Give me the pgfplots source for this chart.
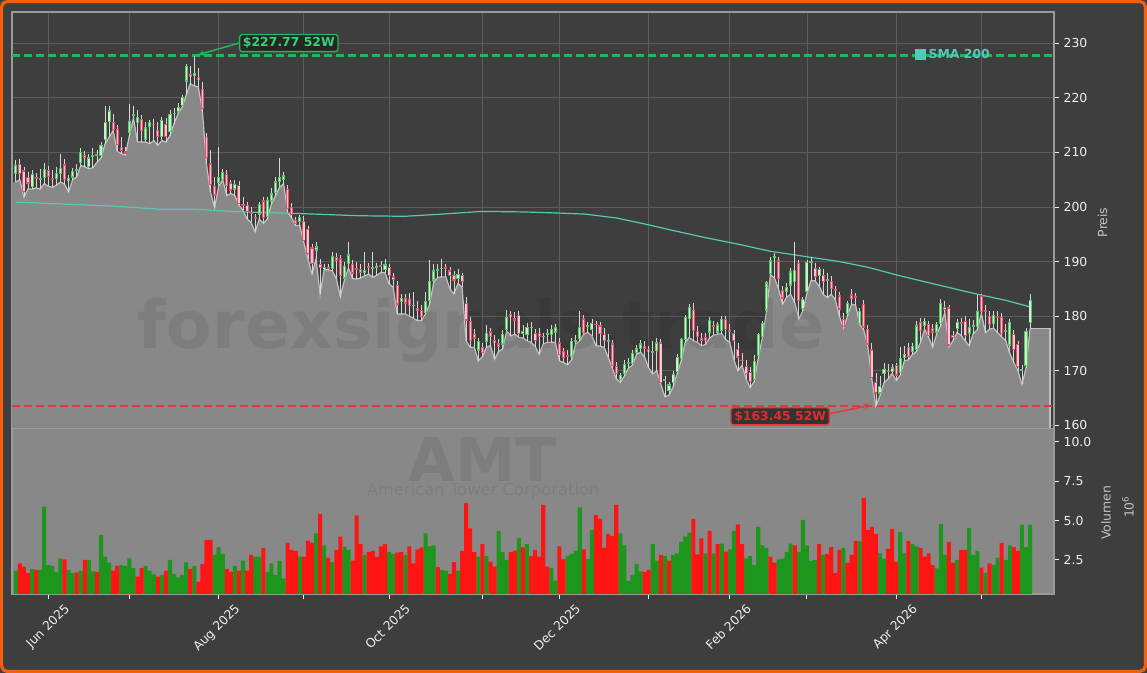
\documentclass[border=0pt]{standalone}
\usepackage{pgfplots}
\pgfplotsset{compat=1.18}
\usepackage{pgfplotstable}
\usepackage{fontspec}
\setmainfont{DejaVu Sans}
\usetikzlibrary{arrows.meta}

\definecolor{figbg}{HTML}{3E3E3E}
\definecolor{frameor}{HTML}{F0600F}
\definecolor{gridc}{HTML}{5C5C5C}
\definecolor{spinec}{HTML}{9A9A9A}
\definecolor{tickc}{HTML}{EEEEEE}
\definecolor{labc}{HTML}{C4C4C4}
\definecolor{areac}{HTML}{888888}
\definecolor{arealn}{HTML}{C2C2C2}
\definecolor{wickc}{HTML}{D6D6D6}
\definecolor{upedge}{HTML}{58C868}
\definecolor{upfill}{HTML}{CDEFCD}
\definecolor{dnedge}{HTML}{EE4E6C}
\definecolor{dnfill}{HTML}{F8C8D2}
\definecolor{volg}{HTML}{1C961C}
\definecolor{volr}{HTML}{FF1414}
\definecolor{smac}{HTML}{56C8B8}
\definecolor{hiline}{HTML}{20B858}
\definecolor{hitext}{HTML}{38D27A}
\definecolor{loline}{HTML}{E03A3A}
\definecolor{lotext}{HTML}{E42A2A}

\newcommand\tfont{\fontsize{9.3pt}{11pt}\selectfont}

% daily candles: index, open, high, low, close, volume (mio), volume colour (1 = green)
\pgfplotstableread{
i o h l c v g
0 206.0 208.6 204.6 207.7 1.83 1
1 207.9 208.8 205.0 206.1 2.29 0
2 206.7 207.3 201.8 202.7 2.08 0
3 205.5 206.4 203.3 204.3 1.66 0
4 203.6 206.8 203.3 206.1 1.92 1
5 205.5 206.2 203.5 205.1 1.87 0
6 205.0 207.0 203.3 205.2 1.87 1
7 205.3 208.0 204.3 207.0 5.88 1
8 206.8 207.5 203.8 205.5 2.18 1
9 205.4 206.8 203.6 205.0 2.12 1
10 205.1 207.3 204.0 206.2 1.71 1
11 206.0 209.8 204.6 207.2 2.60 1
12 207.8 208.8 204.2 205.0 2.54 0
13 204.7 205.8 202.8 205.3 1.87 1
14 205.4 207.2 205.0 206.6 1.66 1
15 206.6 207.8 205.5 206.9 1.71 0
16 208.1 210.8 207.6 210.1 1.83 1
17 209.6 210.2 207.4 209.0 2.50 0
18 207.3 209.7 207.0 209.1 2.50 1
19 209.2 210.8 207.2 209.6 1.77 1
20 209.4 210.4 208.2 209.7 1.75 0
21 209.4 212.0 209.0 211.4 4.08 1
22 212.3 218.6 211.6 215.6 2.71 1
23 215.6 218.5 212.8 217.7 2.33 1
24 215.6 217.0 214.0 214.1 1.83 0
25 214.3 215.0 210.2 211.3 2.12 0
26 211.0 212.8 209.8 210.3 2.18 1
27 210.2 211.0 209.5 209.8 2.12 1
28 213.5 218.8 213.1 215.8 2.60 1
29 216.8 218.6 216.3 217.0 1.99 1
30 215.4 217.8 211.9 216.5 1.45 0
31 216.2 216.8 211.9 213.9 1.99 0
32 212.3 215.5 211.9 214.6 2.12 1
33 214.6 216.0 211.6 215.6 1.83 1
34 215.3 216.2 212.2 215.0 1.58 1
35 214.2 215.5 211.3 212.8 1.45 0
36 212.8 216.5 212.2 215.9 1.56 1
37 215.3 216.3 211.9 212.8 1.83 0
38 213.8 217.7 213.1 217.1 2.50 1
39 217.0 218.2 215.3 217.3 1.62 1
40 217.3 219.0 217.1 218.3 1.39 1
41 218.5 220.6 218.3 220.2 1.56 1
42 223.0 226.2 220.5 225.9 2.35 1
43 224.4 225.8 222.6 223.8 1.94 0
44 224.0 227.77 222.2 224.6 2.12 1
45 223.8 225.4 222.0 223.2 1.13 0
46 221.7 223.0 217.5 218.0 2.25 0
47 212.8 213.5 207.8 208.9 3.77 0
48 208.0 210.5 202.7 204.0 3.77 0
49 203.8 205.5 199.9 202.1 2.82 1
50 204.4 211.0 203.8 205.5 3.32 1
51 205.0 207.0 205.0 206.4 2.88 1
52 206.0 206.8 202.1 203.9 1.92 0
53 204.5 205.0 202.5 203.0 1.75 0
54 203.2 205.0 202.1 204.3 2.12 1
55 204.1 204.8 200.3 200.6 1.83 0
56 200.6 201.8 199.4 200.3 2.46 1
57 200.4 201.0 197.8 199.1 1.83 0
58 199.0 200.0 197.2 198.7 2.82 0
59 198.2 198.8 195.4 197.8 2.71 1
60 198.6 201.0 197.8 200.6 2.71 1
61 201.2 201.8 197.0 197.9 3.26 0
62 198.2 201.8 197.8 201.3 1.75 1
63 201.0 203.5 200.5 202.5 2.29 1
64 202.5 205.5 202.1 204.7 1.56 1
65 204.6 208.9 203.6 205.5 2.44 1
66 205.0 206.5 204.3 205.8 1.33 1
67 203.3 204.0 199.0 199.6 3.60 0
68 200.0 200.8 198.0 198.5 3.14 0
69 197.6 198.2 196.6 196.9 3.08 0
70 197.2 198.6 196.6 198.2 2.71 1
71 197.4 198.3 193.5 193.7 2.71 0
72 196.0 196.5 190.5 191.3 3.73 0
73 192.6 193.2 187.7 189.6 3.60 0
74 192.0 193.5 190.5 192.8 4.19 1
75 189.6 190.4 184.0 188.8 5.41 0
76 188.6 189.5 188.5 189.1 3.43 1
77 189.0 189.6 188.5 188.6 2.65 0
78 188.6 191.8 188.3 191.1 2.37 1
79 190.8 191.5 186.9 190.1 3.14 0
80 190.6 191.2 183.6 187.3 3.98 0
81 186.9 189.9 186.6 189.2 3.35 1
82 189.6 193.5 188.8 191.3 3.14 1
83 189.6 190.2 186.9 187.8 2.46 0
84 188.8 190.0 186.8 188.6 5.33 0
85 188.6 189.5 187.0 188.0 3.50 0
86 188.0 191.8 187.4 188.5 2.82 1
87 189.2 189.8 187.7 188.8 3.01 0
88 188.8 191.8 187.1 189.0 3.08 0
89 189.0 189.8 187.5 189.1 2.71 0
90 189.4 190.2 188.0 189.0 3.37 0
91 188.5 190.5 188.0 189.5 3.50 0
92 189.0 189.6 185.9 187.4 3.01 1
93 187.3 188.0 185.3 186.7 2.88 1
94 185.8 186.5 180.4 182.1 2.96 0
95 182.6 184.0 180.4 183.3 3.00 0
96 183.3 184.0 180.4 182.3 2.82 1
97 183.1 184.2 180.0 181.9 3.37 0
98 182.0 184.4 179.6 182.0 2.29 0
99 181.5 182.8 179.2 181.0 3.18 0
100 181.2 182.0 179.2 179.8 3.30 0
101 180.5 184.5 180.4 182.8 4.19 1
102 182.8 190.2 182.2 186.5 3.37 1
103 186.5 189.5 186.2 188.4 3.43 1
104 188.4 189.5 187.1 188.6 2.04 0
105 188.6 190.5 187.2 188.9 1.87 1
106 188.9 189.6 187.2 188.7 1.83 1
107 188.4 189.0 185.0 187.4 1.62 0
108 187.6 188.2 184.1 186.5 2.37 0
109 186.8 188.6 186.0 187.7 1.83 1
110 187.5 188.0 185.3 186.2 3.08 0
111 182.5 183.5 175.5 179.2 6.10 0
112 179.2 179.8 174.3 175.5 4.51 0
113 176.8 177.6 174.3 175.9 3.00 0
114 173.7 176.0 171.8 175.5 2.71 1
115 174.4 175.0 172.6 173.2 3.50 0
116 175.2 178.3 174.3 177.0 2.75 1
117 177.2 177.8 174.6 176.1 2.39 0
118 175.6 176.6 172.1 175.0 2.08 0
119 175.0 175.8 173.5 174.3 4.34 1
120 174.8 177.5 174.0 176.7 3.00 1
121 177.5 181.2 177.3 179.8 2.50 1
122 180.4 181.0 176.4 179.8 3.00 0
123 179.6 180.8 176.7 179.2 3.10 0
124 180.3 181.0 176.1 176.7 3.90 1
125 176.8 178.4 176.0 177.3 3.30 0
126 176.6 178.8 175.5 178.0 3.50 1
127 177.8 179.0 175.2 178.1 2.75 0
128 177.0 177.6 174.5 175.5 3.14 0
129 177.0 177.8 173.0 176.1 2.71 0
130 176.2 177.0 174.9 176.4 6.00 0
131 176.6 177.6 175.2 176.8 2.08 0
132 176.6 178.4 175.2 177.6 1.99 1
133 177.0 178.5 175.2 178.0 1.19 1
134 175.2 176.0 171.8 172.9 3.37 0
135 173.6 174.2 171.5 172.3 2.56 0
136 172.8 173.8 171.1 172.5 2.75 1
137 172.5 176.0 172.0 175.5 2.88 1
138 175.3 176.5 174.9 175.6 3.10 1
139 175.8 181.0 175.5 178.0 5.84 1
140 179.6 180.2 176.7 176.9 3.18 0
141 178.0 179.0 177.0 178.3 2.56 1
142 177.5 179.5 176.4 178.8 4.40 1
143 178.6 179.2 174.6 178.4 5.35 0
144 178.3 179.0 174.5 176.7 5.10 0
145 176.8 177.8 174.3 175.5 3.28 0
146 175.4 176.8 172.5 175.5 4.15 0
147 175.0 175.6 170.5 170.9 4.03 0
148 170.9 171.6 168.5 169.4 6.00 0
149 168.3 169.6 167.9 169.2 4.19 1
150 169.4 172.0 169.0 171.2 3.43 1
151 171.3 172.3 170.5 171.5 1.16 1
152 171.2 173.8 171.0 173.2 1.56 1
153 173.2 174.8 173.0 174.1 2.25 1
154 174.0 175.6 173.4 175.0 1.77 1
155 174.6 175.4 172.5 174.0 1.73 0
156 174.0 174.6 170.5 173.4 1.87 0
157 173.3 175.5 169.4 173.5 3.50 1
158 173.6 176.0 170.0 175.2 2.46 1
159 175.2 175.8 167.5 167.8 2.82 0
160 168.2 169.0 165.2 168.5 2.75 1
161 166.3 168.0 165.5 167.5 2.46 0
162 167.8 170.0 167.0 169.4 2.82 1
163 169.7 173.0 169.4 172.5 2.92 1
164 172.1 176.0 171.8 175.8 3.64 1
165 175.6 180.2 175.2 179.9 3.98 1
166 179.5 182.2 176.1 181.7 4.23 1
167 181.1 182.5 175.5 177.3 5.10 0
168 177.3 178.2 175.2 176.1 2.86 0
169 176.0 177.0 174.6 175.5 3.87 0
170 176.2 177.0 174.8 175.5 2.92 1
171 177.0 179.8 176.0 179.3 4.34 0
172 178.3 179.2 176.5 178.0 2.92 1
173 177.0 178.9 176.7 178.5 3.50 0
174 177.3 180.0 176.8 179.5 3.54 1
175 179.5 180.0 175.7 177.5 3.03 0
176 177.3 178.5 175.2 177.2 3.18 1
177 177.0 177.5 172.0 175.5 4.34 1
178 174.0 175.0 170.0 172.4 4.76 0
179 172.0 173.2 171.0 171.8 3.50 0
180 170.9 172.0 168.5 169.4 2.60 1
181 169.8 170.6 166.9 167.9 2.75 1
182 168.3 172.8 168.0 171.8 2.18 1
183 172.7 177.0 172.3 176.7 4.60 1
184 176.1 179.2 176.0 178.7 3.43 1
185 181.0 186.5 180.7 186.2 3.26 1
186 187.7 190.8 187.6 190.2 2.71 0
187 190.8 191.5 187.0 191.0 2.33 0
188 190.2 190.8 185.0 186.8 2.54 1
189 184.8 185.5 182.2 183.2 2.59 1
190 184.4 186.0 183.5 185.4 3.01 1
191 185.6 188.8 184.0 188.2 3.54 1
192 186.2 193.5 182.5 188.5 3.43 0
193 189.7 190.2 179.5 182.8 3.01 1
194 181.3 183.5 181.0 183.1 5.04 1
195 184.4 190.2 184.2 189.9 3.43 1
196 189.9 190.8 186.5 190.0 2.44 1
197 188.8 189.8 186.5 187.1 2.50 1
198 187.4 189.0 185.5 188.6 3.50 0
199 187.5 188.6 184.0 186.3 2.82 1
200 186.5 188.0 183.4 186.8 2.88 0
201 186.5 187.4 184.0 184.9 3.32 0
202 184.9 185.6 183.0 184.6 1.66 0
203 183.8 184.5 180.0 181.2 3.14 0
204 179.5 180.5 177.8 178.0 3.26 1
205 180.4 182.8 180.0 182.5 2.33 0
206 184.0 185.0 182.2 183.2 2.82 0
207 183.6 184.2 182.0 183.4 3.70 0
208 178.6 181.5 178.5 181.0 3.70 1
209 182.3 183.0 177.5 177.9 6.42 0
210 177.7 178.4 174.5 174.8 4.40 0
211 173.9 175.0 168.5 168.7 4.61 0
212 167.9 169.5 163.45 165.8 4.15 0
213 165.8 169.0 165.5 167.2 2.92 1
214 169.4 171.5 167.8 170.4 2.58 1
215 170.0 171.2 168.5 169.8 3.20 0
216 169.8 171.3 169.5 170.6 4.46 0
217 171.0 171.5 168.2 169.1 2.39 0
218 169.5 174.3 169.2 172.4 4.27 1
219 172.4 174.5 171.8 173.1 2.92 1
220 174.3 175.0 172.0 172.5 3.70 0
221 173.4 175.0 173.0 174.6 3.50 1
222 173.8 179.2 173.5 178.3 3.37 1
223 178.9 179.6 175.2 177.3 3.26 0
224 178.2 179.6 177.6 179.2 2.71 0
225 178.6 179.2 176.1 176.4 2.92 0
226 177.9 178.5 174.3 177.0 2.18 0
227 177.0 178.9 176.8 178.6 1.97 1
228 178.6 183.2 178.3 182.5 4.78 1
229 181.7 182.8 180.7 181.2 2.82 1
230 181.6 182.0 174.4 174.6 3.64 0
231 176.6 177.2 175.5 176.0 2.33 0
232 177.6 179.5 177.0 179.0 2.50 1
233 178.9 179.6 176.5 178.5 3.14 0
234 179.2 180.0 175.5 176.4 3.14 0
235 176.8 179.5 174.6 178.0 4.53 1
236 178.0 179.3 176.8 178.4 2.82 1
237 178.0 183.8 177.5 181.0 3.08 1
238 183.8 184.0 180.5 180.7 2.01 0
239 181.2 182.0 177.0 180.8 1.66 1
240 180.1 181.0 177.6 178.3 2.29 0
241 178.6 181.0 177.8 180.3 2.18 1
242 180.1 181.0 177.0 179.7 2.65 1
243 179.9 180.5 176.2 176.7 3.58 0
244 177.2 178.5 175.5 177.5 2.50 1
245 174.6 179.5 173.2 178.9 3.43 1
246 176.7 177.5 171.5 173.8 3.32 0
247 174.9 175.5 170.0 170.6 3.08 0
248 169.9 171.0 167.5 170.3 4.72 1
249 170.9 177.8 170.5 177.3 3.32 1
250 178.7 184.0 177.7 183.0 4.72 1
}\data

\pgfplotsset{
  panel/.style={
    scale only axis, width=781.5pt, anchor=south west,
    xmin=-0.94, xmax=255.9,
    axis line style={draw=spinec, line width=0.8pt},
    tick align=outside, major tick length=3.75pt, minor tick length=3.75pt,
    tick style={draw=tickc, line width=0.75pt},
    tick label style={font=\tfont, text=tickc},
    ytick pos=right, yticklabel pos=right,
    xtick={8,50,92,134,176,217},
    minor xtick={28,71,115,156,195,238},
  },
  cbody/.style 2 args={draw=none, mark=none, forget plot,
    /pgfplots/error bars/y dir=both, /pgfplots/error bars/y explicit,
    /pgfplots/error bars/error mark=none,
    /pgfplots/error bars/error bar style={draw=#1, line width=#2}},
}

\begin{document}
\begin{tikzpicture}
\useasboundingbox (0,0) rectangle (860.25pt,504.75pt);
\fill[figbg] (0,0) rectangle (860.25pt,504.75pt);

% ---------- price panel ----------
\begin{axis}[panel,
  at={(9pt,183.53pt)}, height=312.2pt,
  ymin=159.45, ymax=235.74,
  ytick={160,170,...,230},
  yticklabels={160,170,180,190,200,210,220,230},
  xticklabels={}, xtick style={draw=none},
  xmajorgrids, xminorgrids, ymajorgrids,
  grid style={draw=gridc, line width=0.6pt},
  minor grid style={draw=gridc, line width=0.6pt},
  axis background/.style={fill=figbg},
  legend style={at={(0.8666,0.898)}, anchor=west, draw=none, fill=none,
    inner sep=0pt, font=\bfseries\tfont, text=smac},
  legend cell align=left,
  legend image code/.code={\fill[smac] (0pt,-3.6pt) rectangle (7.2pt,3.6pt);},
]
% area under the daily lows
\addplot[fill=areac, draw=none, forget plot] table[x=i, y=l]{\data} \closedcycle;
\addplot[fill=areac, draw=none, forget plot] coordinates {(-0.94,204.6) (0,204.6)} \closedcycle;
\addplot[fill=areac, draw=none, forget plot] coordinates {(250,177.7) (254.9,177.7)} \closedcycle;
\addplot[arealn, line width=0.9pt, forget plot] table[x=i, y=l]{\data};
\addplot[arealn, line width=0.9pt, forget plot] coordinates {(250,177.7) (254.9,177.7) (254.9,150)};

% 52 week levels
\addplot[color=hiline, solid, line width=1.6pt, dash pattern=on 6pt off 3pt, forget plot]
  coordinates {(-0.94,227.77) (255.9,227.77)};
\addplot[color=loline, solid, line width=1.5pt, dash pattern=on 6pt off 3pt, forget plot]
  coordinates {(-0.94,163.45) (255.9,163.45)};

\node[font=\bfseries\fontsize{49.8pt}{56pt}\selectfont, text=black, text opacity=0.075, anchor=base]
  at (axis cs:114.7,174.1) {forexsignals.trade};

% SMA 200
\addplot[smac, line width=0.9pt] coordinates {
  (0,200.9) (23.2,200.2) (35.5,199.6) (43.7,199.6) (56,199.1) (70,198.8)
  (84.8,198.4) (95.9,198.3) (105,198.7) (114.9,199.2) (125,199.1) (133.6,198.9)
  (140.3,198.7) (148,198.0) (155,196.9) (162,195.7) (169.9,194.4) (178,193.2)
  (185.9,191.9) (195.8,190.8) (203,190.0) (209.8,189.0) (217.9,187.4)
  (228,185.6) (237.7,183.9) (244,182.9) (249.5,181.8) (250,181.7)};
\addlegendentry{SMA 200}

% candles: wicks, then bodies
\addplot[cbody={wickc}{0.6pt}]
  table[x=i, y expr={(\thisrow{h}+\thisrow{l})/2}, y error expr={(\thisrow{h}-\thisrow{l})/2}]{\data};
\addplot[cbody={upedge}{2.3pt}, restrict expr to domain={\thisrow{c}-\thisrow{o}}{0:1000}]
  table[x=i, y expr={(\thisrow{o}+\thisrow{c})/2}, y error expr={max(abs(\thisrow{c}-\thisrow{o})/2,0.13)}]{\data};
\addplot[cbody={upfill}{1.0pt}, restrict expr to domain={\thisrow{c}-\thisrow{o}}{0:1000}]
  table[x=i, y expr={(\thisrow{o}+\thisrow{c})/2}, y error expr={max(abs(\thisrow{c}-\thisrow{o})/2-0.22,0)}]{\data};
\addplot[cbody={dnedge}{2.3pt}, restrict expr to domain={\thisrow{c}-\thisrow{o}}{-1000:-0.001}]
  table[x=i, y expr={(\thisrow{o}+\thisrow{c})/2}, y error expr={max(abs(\thisrow{c}-\thisrow{o})/2,0.13)}]{\data};
\addplot[cbody={dnfill}{1.0pt}, restrict expr to domain={\thisrow{c}-\thisrow{o}}{-1000:-0.001}]
  table[x=i, y expr={(\thisrow{o}+\thisrow{c})/2}, y error expr={max(abs(\thisrow{c}-\thisrow{o})/2-0.22,0)}]{\data};

% annotations
\node[draw=hiline, fill=black!85, rounded corners=2pt, line width=1pt, text=hitext,
  font=\bfseries\tfont, inner xsep=2.5pt, inner ysep=2.2pt] (hi) at (axis cs:67.3,230.05) {\$227.77 52W};
\draw[hiline, line width=1.1pt, -{Stealth[length=5pt,width=4pt]}] (hi.west) -- (axis cs:44.9,227.9);
\node[draw=loline, fill=black!80, rounded corners=2pt, line width=1pt, text=lotext,
  font=\bfseries\tfont, inner xsep=2.5pt, inner ysep=2.2pt] (lo) at (axis cs:188.4,161.65) {\$163.45 52W};
\draw[loline, line width=1.1pt, -{Stealth[length=5pt,width=4pt]}] ([yshift=2pt]lo.east) -- (axis cs:210.8,163.7);
\end{axis}

% ---------- volume panel ----------
\begin{axis}[panel,
  at={(9pt,59.25pt)}, height=124.3pt,
  ymin=0.344, ymax=10.85,
  ytick={2.5,5,7.5,10}, yticklabels={2.5,5.0,7.5,10.0},
  xtick pos=left,
  xticklabels={Jun 2025,Aug 2025,Oct 2025,Dec 2025,Feb 2026,Apr 2026},
  xticklabel style={xshift=11.5pt, rotate=45, anchor=north east, inner sep=2pt},
  axis background/.style={fill=areac},
]
\node[font=\bfseries\fontsize{45.3pt}{50pt}\selectfont, text=black, text opacity=0.075, anchor=base]
  at (axis cs:115.0,7.45) {AMT};
\node[font=\fontsize{12.3pt}{14pt}\selectfont, text=black, text opacity=0.075, anchor=base]
  at (axis cs:115.2,6.56) {American Tower Corporation};
\addplot[ybar, bar width=1, bar shift=0pt, fill=volg, draw=none,
  restrict expr to domain={\thisrow{g}}{0.5:1.5}] table[x=i, y=v]{\data};
\addplot[ybar, bar width=1, bar shift=0pt, fill=volr, draw=none,
  restrict expr to domain={\thisrow{g}}{-0.5:0.5}] table[x=i, y=v]{\data};
\end{axis}

% axis titles on the right
\node[rotate=90, text=labc, font=\tfont] at (826.9pt,337.9pt) {Preis};
\node[rotate=90, text=labc, font=\tfont] at (829.5pt,120pt) {Volumen};
\node[rotate=90, text=labc, font=\tfont] at (846pt,124.5pt) {10\textsuperscript{6}};

\draw[frameor, line width=2.4pt, rounded corners=4pt] (1.2pt,1.2pt) rectangle (859.05pt,503.55pt);
\end{tikzpicture}
\end{document}
